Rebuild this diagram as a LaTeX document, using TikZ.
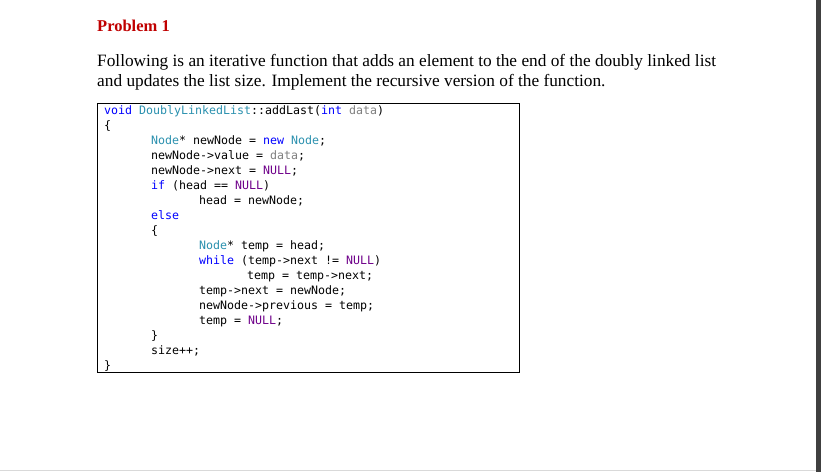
\documentclass[tikz,border=0pt]{standalone}
\usepackage{fontspec}
\setmainfont{Liberation Serif}
\newfontfamily\codefont{DejaVu Sans Mono}[Scale=0.93]
\definecolor{typecol}{RGB}{43,145,175}
\definecolor{keycol}{RGB}{0,0,255}
\definecolor{nullcol}{RGB}{111,0,138}
\definecolor{argcol}{RGB}{128,128,128}
\definecolor{probred}{RGB}{192,0,0}
\newcommand{\ty}[1]{\textcolor{typecol}{#1}}
\newcommand{\kw}[1]{\textcolor{keycol}{#1}}
\newcommand{\nl}[1]{\textcolor{nullcol}{#1}}
\newcommand{\ar}[1]{\textcolor{argcol}{#1}}

\begin{document}
\begin{tikzpicture}[
            x = 1pt, y = -1pt, % pixel grid
            inner sep = 0pt
        ]

        \tikzset{
            prose/.style = {anchor = base west, font = \fontsize{17.3}{20}\selectfont},
            codeline/.style = {anchor = base west, font = \codefont\fontsize{12.5}{15}\selectfont}
        }

        \useasboundingbox[fill = white] (0,0) rectangle (821,472);
        \fill[black!75] (816,0) rectangle (821,472);
        \draw[black!15] (0,470.5) -- (816,470.5);

        \node[prose, text = probred, font = \bfseries\fontsize{16.5}{18}\selectfont] (title) at (97,31) {Problem 1};
        \node[prose] (text1) at (97,66) {Following is an iterative function that adds an element to the end of the doubly linked list};
        \node[prose] (text2) at (97,86) {and updates the list size. Implement the recursive version of the function.};

        \draw[thick] (97,103) rectangle (519,372);

        \node[codeline] (c1) at (104,114) {\kw{void} \ty{DoublyLinkedList}::addLast(\kw{int} \ar{data})};
        \node[codeline] (c2) at (104,129) {\{};
        \node[codeline] (c3) at (151,144) {\ty{Node}* newNode = \kw{new} \ty{Node};};
        \node[codeline] (c4) at (151,159) {newNode->value = \ar{data};};
        \node[codeline] (c5) at (151,174) {newNode->next = \nl{NULL};};
        \node[codeline] (c6) at (151,189) {\kw{if} (head == \nl{NULL})};
        \node[codeline] (c7) at (199,204) {head = newNode;};
        \node[codeline] (c8) at (151,219) {\kw{else}};
        \node[codeline] (c9) at (151,234) {\{};
        \node[codeline] (c10) at (199,249) {\ty{Node}* temp = head;};
        \node[codeline] (c11) at (199,264) {\kw{while} (temp->next != \nl{NULL})};
        \node[codeline] (c12) at (247,279) {temp = temp->next;};
        \node[codeline] (c13) at (199,294) {temp->next = newNode;};
        \node[codeline] (c14) at (199,309) {newNode->previous = temp;};
        \node[codeline] (c15) at (199,324) {temp = \nl{NULL};};
        \node[codeline] (c16) at (151,339) {\}};
        \node[codeline] (c17) at (151,354) {size++;};
        \node[codeline] (c18) at (104,369) {\}};

    \end{tikzpicture}
\end{document}
